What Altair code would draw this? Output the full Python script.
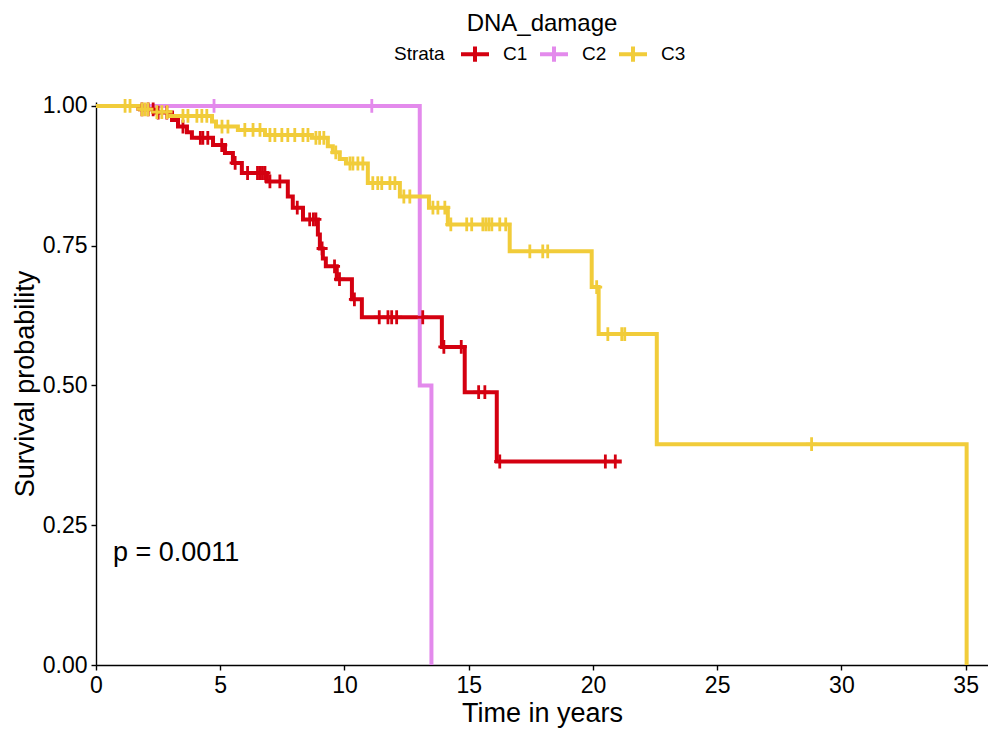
import bisect
import altair as alt
import pandas as pd

# ---- data ----
strata = ["C1", "C2", "C3"]
colors = ["#D40010", "#E38AEC", "#F1CC3A"]

# step (event) times and survival after each step
c1_time = [0, 1.77, 2.37, 3.06, 3.30, 3.66, 3.86, 4.71, 5.19, 5.51, 5.87, 6.88, 7.72, 7.92,
           8.33, 8.93, 9.01, 9.13, 9.25, 9.69, 10.30, 10.70, 13.92, 14.84, 16.13, 21.16]
c1_surv = [1.0, 0.994, 0.988, 0.975, 0.963, 0.953, 0.943, 0.930, 0.916, 0.898, 0.880, 0.865, 0.838, 0.818,
           0.797, 0.770, 0.745, 0.727, 0.713, 0.690, 0.654, 0.622, 0.569, 0.488, 0.364, 0.364]
c1_censor = [1.85, 2.1, 2.3, 2.5, 2.85, 3.5, 4.2, 4.3, 4.5, 5.06, 5.6, 6.1, 6.5, 6.6, 6.7, 6.8,
             7.0, 7.4, 8.1, 8.6, 8.75, 8.85, 9.1, 9.6, 9.8, 10.4, 11.4, 11.75, 11.9, 12.1, 13.15,
             14.0, 14.7, 15.4, 15.65, 16.25, 20.5, 20.9]

c2_time = [0, 13.03, 13.5]
c2_surv = [1.0, 0.5, 0.0]
c2_censor = [4.75, 11.1]

c3_time = [0, 1.77, 2.29, 2.98, 4.67, 4.83, 5.71, 6.80, 8.69, 9.33, 9.53, 9.81, 10.06, 10.94,
           12.23, 13.40, 14.16, 16.65, 19.95, 20.23, 22.57, 35.04]
c3_surv = [1.0, 0.994, 0.989, 0.982, 0.972, 0.963, 0.957, 0.948, 0.943, 0.928, 0.917, 0.905, 0.897, 0.862,
           0.838, 0.818, 0.788, 0.740, 0.676, 0.592, 0.395, 0.0]
c3_censor = [1.17, 1.37, 1.85, 1.97, 2.09, 2.45, 2.65, 2.86, 3.50, 3.70, 4.06, 4.26, 4.46, 5.07, 5.31,
             5.99, 6.32, 6.60, 7.0, 7.2, 7.48, 7.72, 8.0, 8.33, 8.53, 8.85, 9.0, 9.17, 9.65, 10.22,
             10.34, 10.54, 10.74, 11.14, 11.34, 11.5, 11.83, 12.03, 12.39, 12.63, 13.56, 13.76, 14.04,
             14.28, 14.92, 15.12, 15.57, 15.69, 15.81, 15.93, 16.25, 16.49, 17.46, 17.98, 18.18, 20.15,
             20.6, 21.16, 21.28, 28.8]

x_ticks = [0, 5, 10, 15, 20, 25, 30, 35]
y_ticks = [0, 0.25, 0.5, 0.75, 1.0]
pval_label = "p = 0.0011"

# ---- tables ----
curves = {"C1": (c1_time, c1_surv, c1_censor),
          "C2": (c2_time, c2_surv, c2_censor),
          "C3": (c3_time, c3_surv, c3_censor)}

line_rows, cens_rows = [], []
for name in strata:
    ts, ss, cs = curves[name]
    for t, s in zip(ts, ss):
        line_rows.append({"strata": name, "time": t, "surv": s})
    for c in cs:
        i = bisect.bisect_right(ts, c) - 1
        cens_rows.append({"strata": name, "time": c, "surv": ss[i]})

lines_df = pd.DataFrame(line_rows)
cens_df = pd.DataFrame(cens_rows)
pval_df = pd.DataFrame({"label": [pval_label]})

FONT = "Liberation Sans"

x_scale = alt.Scale(domain=[0, 35.9], nice=False, zero=False)
y_scale = alt.Scale(domain=[0, 1.007], nice=False)
color_scale = alt.Scale(domain=strata, range=colors)

x_enc = alt.X("time:Q", scale=x_scale,
              axis=alt.Axis(values=x_ticks, title="Time in years", format="d", labelFlush=False))
y_enc = alt.Y("surv:Q", scale=y_scale,
              axis=alt.Axis(values=y_ticks, title="Survival probability", format=".2f",
                            labelFlush=False))
legend = alt.Legend(
    title="Strata", orient="none", legendX=298, legendY=-64, direction="horizontal",
    titleOrient="left", titleFontSize=19, titleFontWeight="normal", titleFont=FONT,
    titleColor="black", titlePadding=14, titleBaseline="middle",
    labelFontSize=19, labelFont=FONT, labelColor="black", labelOffset=12,
    columnPadding=4, symbolType="M-1,0H1M0,-0.55V0.55", symbolSize=784,
    symbolStrokeWidth=4,
)
color_enc = alt.Color("strata:N", scale=color_scale, legend=legend)

line = alt.Chart(lines_df).mark_line(interpolate="step-after", strokeWidth=4).encode(
    x=x_enc, y=y_enc, color=color_enc
)
cens = alt.Chart(cens_df).mark_point(
    shape="M-0.8,0H0.8M0,-1V1", filled=False, strokeWidth=2.8, size=190, opacity=1
).encode(x="time:Q", y="surv:Q", color=alt.Color("strata:N", scale=color_scale, legend=legend))
ptext = alt.Chart(pval_df).mark_text(
    align="left", baseline="middle", fontSize=27, font=FONT, color="black"
).encode(x=alt.datum(0.68), y=alt.datum(0.2), text="label:N")

chart = alt.layer(line, cens, ptext).properties(
    width=892, height=563,
    autosize=alt.AutoSizeParams(type="none"),
    padding={"left": 88, "top": 94, "right": 0, "bottom": 66},
    title=alt.TitleParams("DNA_damage", fontSize=24, fontWeight="normal", font=FONT,
                          color="black", anchor="middle", offset=2),
).configure_view(stroke=None).configure_axis(
    domainColor="black", domainWidth=1.4, tickColor="black", tickWidth=1.4, tickSize=5,
    labelColor="black", labelFontSize=23, labelFont=FONT, labelPadding=4,
    titleColor="black", titleFontSize=27, titleFont=FONT, titleFontWeight="normal",
    titlePadding=3, grid=False,
)

chart.save("out.html", embed_options={"renderer": "svg", "actions": False})
